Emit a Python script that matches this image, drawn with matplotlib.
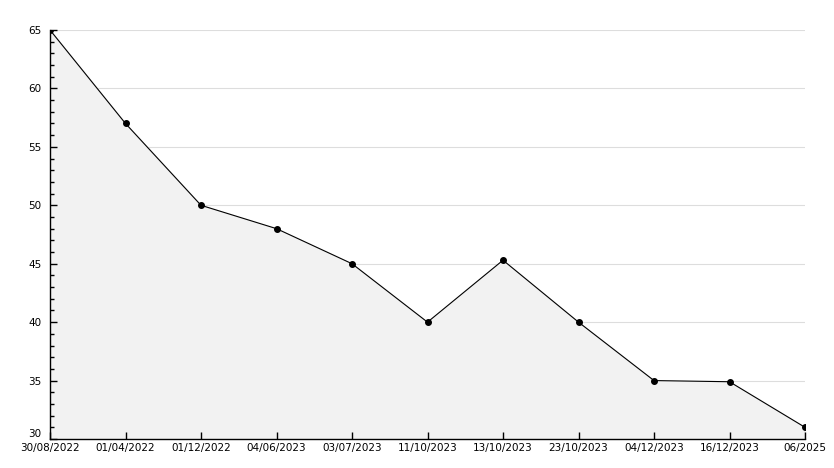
import matplotlib
matplotlib.use("Agg")
from matplotlib import pyplot as plt
from matplotlib.ticker import MultipleLocator

dates = ["30/08/2022", "01/04/2022", "01/12/2022", "04/06/2023", "03/07/2023",
         "11/10/2023", "13/10/2023", "23/10/2023", "04/12/2023", "16/12/2023", "06/2025"]
values = [65, 57, 50, 48, 45, 40, 45.3, 40, 35, 34.9, 31]
y_major = [30, 35, 40, 45, 50, 55, 60, 65]

x = list(range(len(dates)))

fig = plt.figure(figsize=(8.34, 4.68), dpi=100)
ax = fig.add_axes([50 / 834, 1 - 439 / 468, 755 / 834, 409 / 468])

# grid under the filled area
for v in y_major[1:]:
    ax.axhline(v, color="#dddddd", linewidth=0.8, zorder=0)

ax.fill_between(x, values, 30, color="#f2f2f2", zorder=1)
ax.plot(x, values, color="black", linewidth=0.8, marker="o", markersize=4, zorder=3)
ax.vlines(x[-1], 30, values[-1], color="black", linewidth=0.8, zorder=3)

ax.set_xlim(0, len(dates) - 1)
ax.set_ylim(30, 65)
ax.set_xticks(x)
ax.set_xticklabels(dates)
ax.set_yticks(y_major)
ax.yaxis.set_minor_locator(MultipleLocator(1))

for s in ["top", "right"]:
    ax.spines[s].set_visible(False)
ax.spines["left"].set_linewidth(1)
ax.spines["bottom"].set_linewidth(1)
ax.spines["left"].set_zorder(4)
ax.spines["bottom"].set_zorder(4)

ax.tick_params(axis="both", which="major", direction="in", length=5, labelsize=7.5, width=1)
ax.tick_params(axis="y", which="minor", direction="in", length=3, width=1)
ax.tick_params(axis="x", pad=3)
ax.tick_params(axis="y", pad=6)
ax.yaxis.get_major_ticks()[0].label1.set_verticalalignment("bottom")

fig.savefig("out.png", dpi=100)
